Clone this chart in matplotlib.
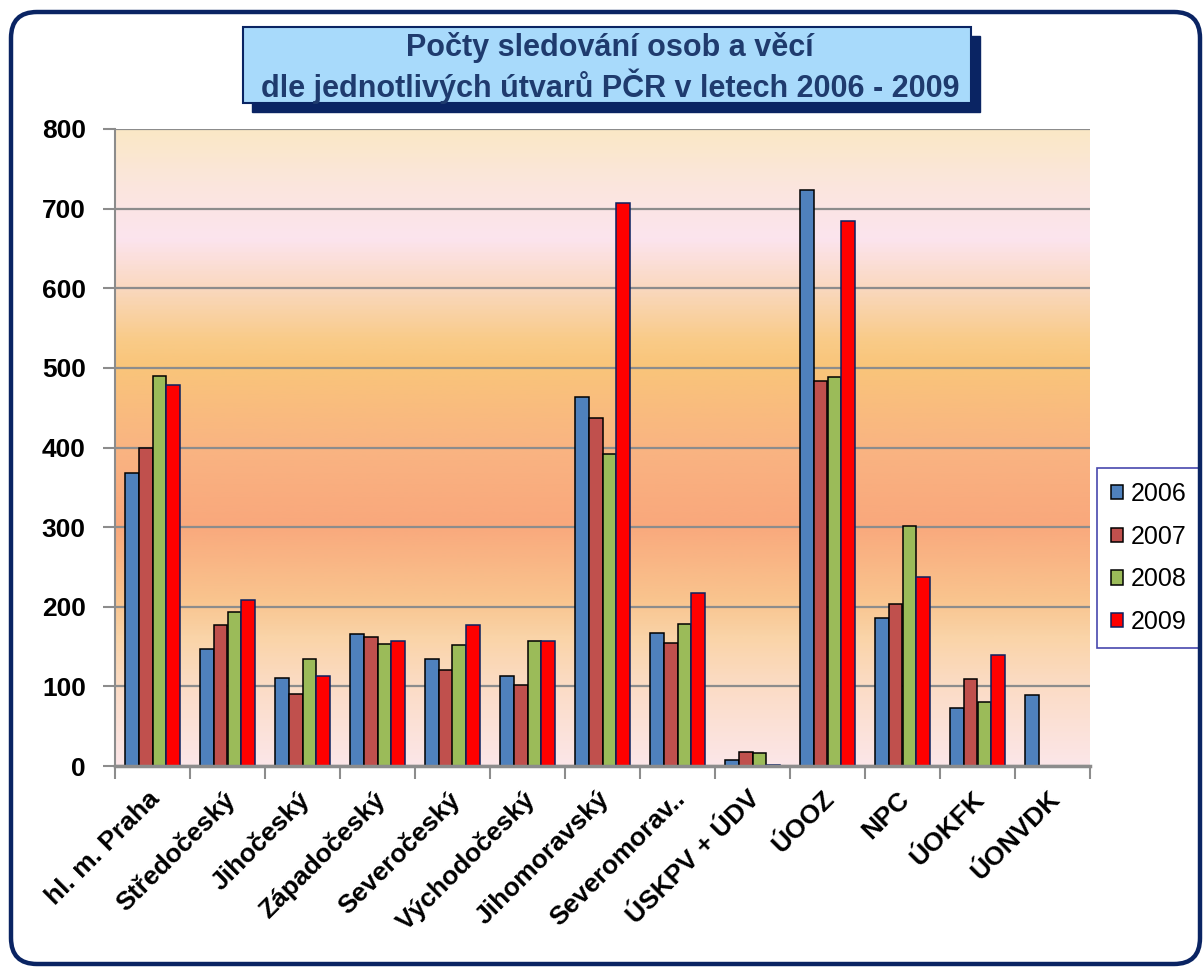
import numpy as np
import matplotlib
matplotlib.use("Agg")
import matplotlib.pyplot as plt
from matplotlib.colors import LinearSegmentedColormap
from matplotlib.patches import FancyBboxPatch, Rectangle
from matplotlib.transforms import IdentityTransform, ScaledTranslation

plt.rcParams['font.family'] = ['Liberation Sans', 'DejaVu Sans']

# data
units = ["hl. m. Praha", "Středočeský", "Jihočeský", "Západočeský", "Severočeský",
         "Východočeský", "Jihomoravský", "Severomorav..", "ÚSKPV + ÚDV", "ÚOOZ",
         "NPC", "ÚOKFK", "ÚONVDK"]
years = ["2006", "2007", "2008", "2009"]
v2006 = [368, 147, 110, 166, 135, 113, 463, 167, 7, 723, 186, 73, 89]
v2007 = [399, 177, 91, 162, 121, 102, 437, 155, 18, 483, 203, 109, 0]
v2008 = [490, 193, 134, 153, 152, 157, 392, 178, 16, 489, 302, 81, 0]
v2009 = [478, 208, 113, 157, 177, 157, 707, 217, 1, 685, 237, 139, 0]
yticks = [0, 100, 200, 300, 400, 500, 600, 700, 800]

colors = ["#4F81BD", "#C0504D", "#9BBB59", "#FF0000"]
edges = ["black", "black", "black", "#0A2060"]
navy = "#0A2463"

W, H = 1203, 967
fig = plt.figure(figsize=(W / 100, H / 100), dpi=100)
fig.patch.set_facecolor("white")

# rounded outer frame
fig.patches.append(FancyBboxPatch((11, 3), 1189, 952, boxstyle="round,pad=0,rounding_size=26",
                                  transform=IdentityTransform(), fill=False,
                                  edgecolor=navy, linewidth=3.2, zorder=0))

ax = fig.add_axes([115 / W, 1 - 766 / H, (1090 - 115) / W, (766 - 129) / H])

# background gradient, from 0 (bottom) to 800 (top)
stops = [(0.0, "#FCE6E8"), (0.12, "#FBDCC6"), (0.2, "#FAD4A8"), (0.26, "#F9C48E"),
         (0.38, "#F9A87C"), (0.5, "#F9B482"), (0.63, "#F9C57A"), (0.67, "#F9CB88"),
         (0.75, "#FAD8BE"), (0.83, "#FCE4EE"), (0.92, "#FBE6DC"), (1.0, "#FAE8C6")]
cmap = LinearSegmentedColormap.from_list("bg", stops)
grad = np.linspace(0, 1, 400).reshape(-1, 1)
ax.imshow(grad, aspect="auto", cmap=cmap, origin="lower",
          extent=[-0.5, len(units) - 0.5, 0, 800], zorder=0)

x = np.arange(len(units))
bw = 0.184
series = [v2006, v2007, v2008, v2009]
for i, vals in enumerate(series):
    ax.bar(x + (i - 1.5) * bw, vals, bw, color=colors[i], edgecolor=edges[i],
           linewidth=1.1, label=years[i], zorder=3)

ax.set_xlim(-0.5, len(units) - 0.5)
ax.set_ylim(0, 800)
ax.set_yticks(yticks)
ax.yaxis.grid(True, color="#8C8C8C", linewidth=1.6, zorder=1)
ax.set_axisbelow(False)
for gl in ax.get_ygridlines():
    gl.set_zorder(1)

ax.set_xticks(np.arange(-0.5, len(units), 1))
ax.set_xticklabels([])
ax.set_xticks(x, minor=True)
ax.set_xticklabels(units, minor=True, rotation=45, ha="right", rotation_mode="anchor",
                   fontsize=19, fontweight="bold")
ax.tick_params(axis="x", which="minor", length=0, pad=15)
ax.tick_params(axis="x", which="major", length=9, width=1.5, color="#8C8C8C")
ax.tick_params(axis="y", length=9, width=1.5, color="#8C8C8C", labelsize=19, pad=12)
for lab in ax.get_yticklabels():
    lab.set_fontweight("bold")
for lab in ax.get_xticklabels(minor=True):
    lab.set_transform(lab.get_transform() + ScaledTranslation(-0.05, 0, fig.dpi_scale_trans))

for s in ["top", "right"]:
    ax.spines[s].set_visible(False)
ax.spines["left"].set_color("#8C8C8C")
ax.spines["left"].set_linewidth(1.5)
ax.spines["bottom"].set_color("#8C8C8C")
ax.spines["bottom"].set_linewidth(2.5)
ax.spines["bottom"].set_zorder(4)

leg = ax.legend(loc="center left", bbox_to_anchor=(1097 / W, 1 - 558 / H),
                bbox_transform=fig.transFigure, fontsize=18, frameon=True, fancybox=False,
                handlelength=0.5, handleheight=0.5, handletextpad=0.3, labelspacing=0.75,
                borderpad=0.55, borderaxespad=0)
leg.get_frame().set_edgecolor("#1A1A9A")
leg.get_frame().set_linewidth(1.2)

# title box with shadow
fig.patches.append(Rectangle((252, 855), 728, 76, transform=IdentityTransform(),
                             facecolor=navy, edgecolor=navy, zorder=1))
fig.patches.append(Rectangle((243, 864), 728, 76, transform=IdentityTransform(),
                             facecolor="#A8DAFB", edgecolor=navy, linewidth=1.5, zorder=2))
fig.text(610 / W, 1 - 68 / H, "Počty sledování osob a věcí\ndle jednotlivých útvarů PČR v letech 2006 - 2009",
         ha="center", va="center", fontsize=22, fontweight="bold", color="#1F3B6E",
         linespacing=1.2, zorder=3)

fig.savefig("out.png", dpi=100)
